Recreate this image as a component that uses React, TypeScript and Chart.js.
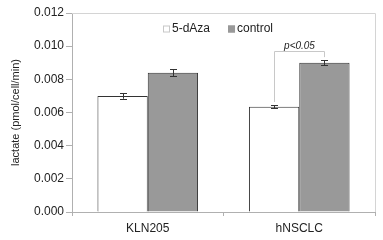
import React, { useEffect, useRef } from "react";
import { Chart, registerables } from "chart.js";

Chart.register(...registerables);

const categories = ["KLN205", "hNSCLC"];
const seriesNames = ["5-dAza", "control"];
const azaValues = [0.0070, 0.00635];
const azaErrors = [0.00017, 0.0001];
const controlValues = [0.0084, 0.0090];
const controlErrors = [0.0002, 0.00016];
const yTicks = [0, 0.002, 0.004, 0.006, 0.008, 0.01, 0.012];
const bracketCategory = 1;
const bracketLevel = 0.0097;
const bracketLabel = "p<0.05";
const yTitle = "lactate (pmol/cell/min)";

const FONT = "'Liberation Sans', Arial, sans-serif";

const overlay = {
  id: "overlay",
  afterDatasetsDraw(chart: any) {
    const ctx = chart.ctx;
    const area = chart.chartArea;
    const y = chart.scales.y;
    ctx.save();
    // frame top/right
    ctx.strokeStyle = "#d4d4d4";
    ctx.lineWidth = 1;
    ctx.beginPath();
    ctx.moveTo(area.left, Math.round(area.top) + 0.5);
    ctx.lineTo(Math.round(area.right) + 0.5, Math.round(area.top) + 0.5);
    ctx.lineTo(Math.round(area.right) + 0.5, area.bottom);
    ctx.stroke();

    // error bars
    const errs = [azaErrors, controlErrors];
    const vals = [azaValues, controlValues];
    ctx.strokeStyle = "#333";
    for (let d = 0; d < 2; d++) {
      const meta = chart.getDatasetMeta(d);
      meta.data.forEach((bar: any, i: number) => {
        const x = Math.round(bar.x) + 0.5;
        const yt = y.getPixelForValue(vals[d][i] + errs[d][i]);
        const yb = y.getPixelForValue(vals[d][i] - errs[d][i]);
        ctx.beginPath();
        ctx.moveTo(x, yt);
        ctx.lineTo(x, yb);
        ctx.moveTo(x - 3.5, Math.round(yt) + 0.5);
        ctx.lineTo(x + 3.5, Math.round(yt) + 0.5);
        ctx.moveTo(x - 3.5, Math.round(yb) + 0.5);
        ctx.lineTo(x + 3.5, Math.round(yb) + 0.5);
        ctx.stroke();
      });
    }

    // significance bracket
    const b0: any = chart.getDatasetMeta(0).data[bracketCategory];
    const b1: any = chart.getDatasetMeta(1).data[bracketCategory];
    const x0 = Math.round(b0.x) + 0.5;
    const x1 = Math.round(b1.x) + 0.5;
    const yl = Math.round(y.getPixelForValue(bracketLevel)) + 0.5;
    const y0 = y.getPixelForValue(azaValues[bracketCategory] + azaErrors[bracketCategory]) - 3;
    const y1 = y.getPixelForValue(controlValues[bracketCategory] + controlErrors[bracketCategory]) - 3;
    ctx.strokeStyle = "#c8c8c8";
    ctx.beginPath();
    ctx.moveTo(x0, y0);
    ctx.lineTo(x0, yl);
    ctx.lineTo(x1, yl);
    ctx.lineTo(x1, y1);
    ctx.stroke();
    ctx.fillStyle = "#222";
    ctx.font = "italic 10px " + FONT;
    ctx.textAlign = "center";
    ctx.textBaseline = "alphabetic";
    ctx.fillText(bracketLabel, (x0 + x1) / 2, yl - 3);

    // legend
    ctx.font = "12px " + FONT;
    ctx.textAlign = "left";
    ctx.textBaseline = "middle";
    const ly = area.top + 16;
    let lx = area.left + 91;
    const fills = ["#ffffff", "#999999"];
    const strokes = ["#c8c8c8", "#999999"];
    seriesNames.forEach((name, i) => {
      ctx.fillStyle = fills[i];
      ctx.fillRect(lx, ly - 3.5, 7, 7);
      ctx.strokeStyle = strokes[i];
      ctx.strokeRect(lx + 0.5, ly - 3, 6, 6);
      ctx.fillStyle = "#222";
      ctx.fillText(name, lx + 9, ly);
      lx += 9 + ctx.measureText(name).width + 18;
    });
    ctx.restore();
  },
};

export default function App() {
  const ref = useRef<HTMLCanvasElement | null>(null);
  useEffect(() => {
    document.body.style.margin = "0";
    if (!ref.current) return;
    const chart = new Chart(ref.current, {
      type: "bar",
      data: {
        labels: categories,
        datasets: [
          {
            label: seriesNames[0],
            data: azaValues,
            backgroundColor: "#ffffff",
            borderColor: "#333333",
            borderWidth: 1,
            categoryPercentage: 0.664,
            barPercentage: 1,
          },
          {
            label: seriesNames[1],
            data: controlValues,
            backgroundColor: "#999999",
            borderColor: "#333333",
            borderWidth: 1,
            categoryPercentage: 0.664,
            barPercentage: 1,
          },
        ],
      },
      options: {
        responsive: false,
        animation: false,
        layout: { padding: { left: 0, right: 8, top: 13, bottom: 0 } },
        plugins: { legend: { display: false }, tooltip: { enabled: false } },
        scales: {
          x: {
            grid: { drawOnChartArea: false, drawTicks: true, tickLength: 4, color: "#b0b0b0" },
            border: { color: "#b0b0b0" },
            ticks: { color: "#222", font: { family: FONT, size: 12 }, padding: 5 },
            afterFit(scale: any) {
              scale.height = 28;
            },
          },
          y: {
            min: 0,
            max: 0.012,
            afterBuildTicks(scale: any) {
              scale.ticks = yTicks.map((v) => ({ value: v }));
            },
            grid: { drawOnChartArea: false, drawTicks: true, tickLength: 6, color: "#b0b0b0" },
            border: { color: "#b0b0b0" },
            ticks: {
              color: "#222",
              font: { family: FONT, size: 12 },
              padding: 2,
              callback: (v: any) => Number(v).toFixed(3),
            },
            title: {
              display: true,
              text: yTitle,
              color: "#222",
              font: { family: FONT, size: 11 },
              padding: { top: 9, bottom: 0 },
            },
            afterFit(scale: any) {
              scale.width = 72;
            },
          },
        },
      },
      plugins: [overlay],
    });
    return () => chart.destroy();
  }, []);
  return (
    <div style={{ position: "absolute", left: 0, top: 0, width: 383, height: 240 }}>
      <canvas ref={ref} width={383} height={240} />
    </div>
  );
}
